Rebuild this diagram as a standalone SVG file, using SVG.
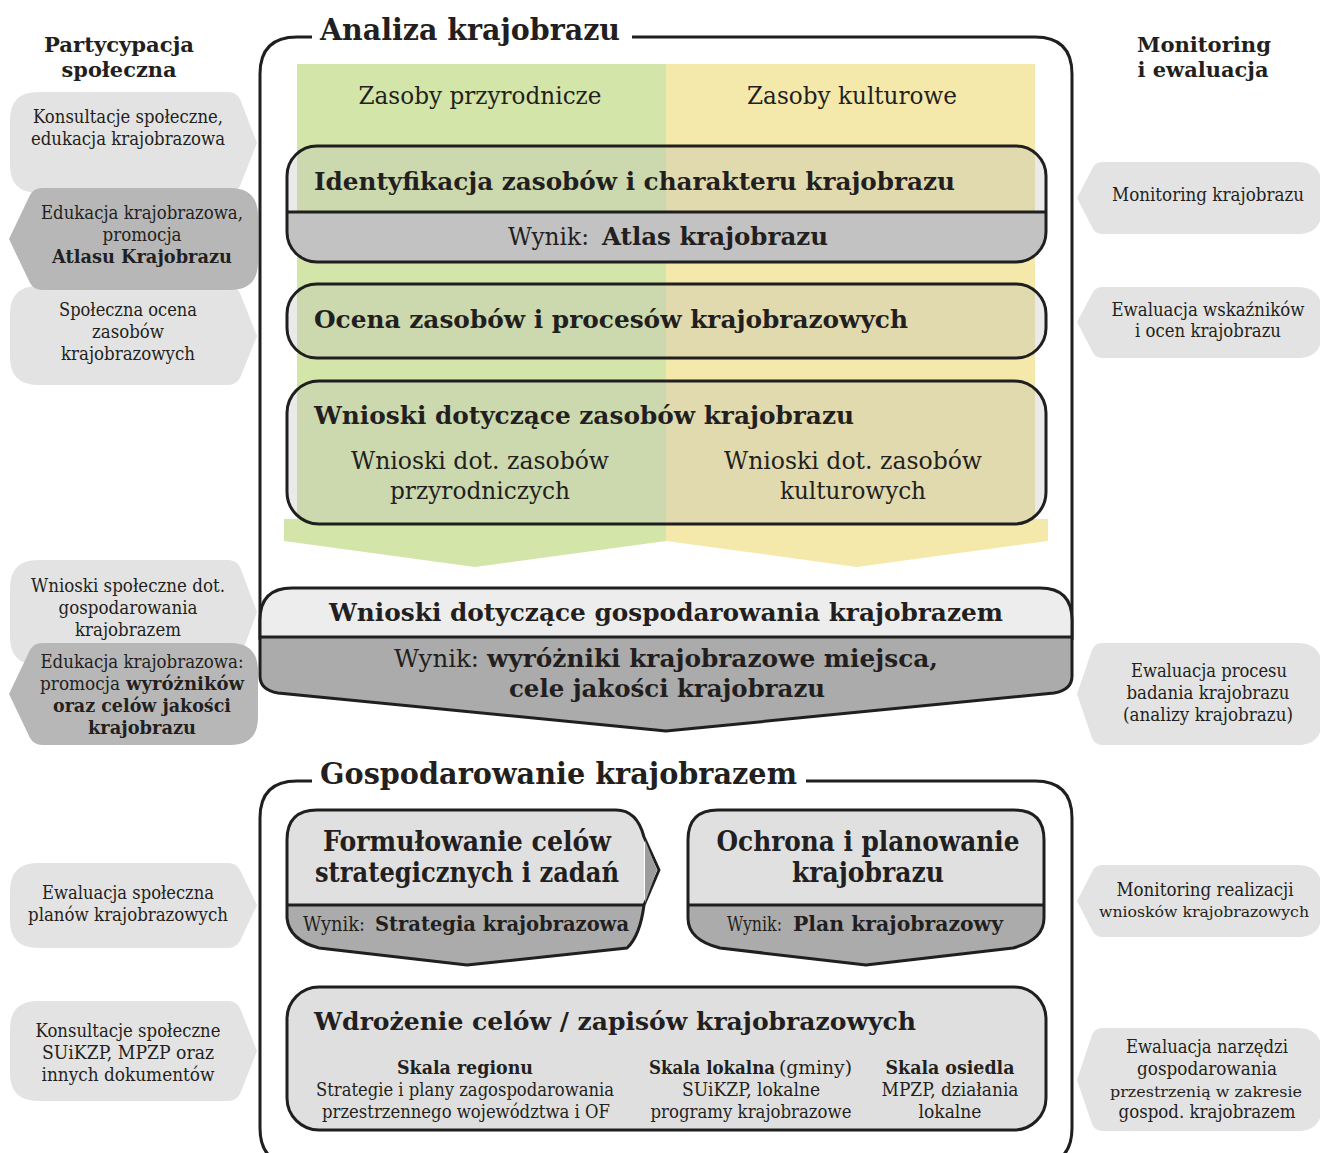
<svg xmlns="http://www.w3.org/2000/svg" width="1320" height="1153" viewBox="0 0 1320 1153">
  <style>
    text { font-family: "DejaVu Serif", "Liberation Serif", serif; fill: #231f20; }
    .b { font-weight: bold; }
    .mid { text-anchor: middle; }
    .side { font-size: 18px; text-anchor: middle; }
    .side-sm { font-size: 15px; text-anchor: middle; }
    .head { font-size: 21px; font-weight: bold; text-anchor: middle; }
    .title { font-size: 30px; font-weight: bold; }
    .frame { fill: none; stroke: #1f1f1f; stroke-width: 3; }
    .edge { fill: none; stroke: #1f1f1f; stroke-width: 3; stroke-linejoin: round; }
    .light { fill: #e3e3e3; }
    .dark { fill: #b7b7b7; }
    .veil { fill: #bbbbbb; fill-opacity: 0.3; }
  </style>
  <defs>
    <clipPath id="clipIdent"><rect x="287" y="146" width="759" height="116" rx="30"/></clipPath>
  </defs>

  <rect x="0" y="0" width="1320" height="1153" fill="#ffffff"/>

  <!-- column headers -->
  <text class="head" x="119" y="52" textLength="150" lengthAdjust="spacingAndGlyphs">Partycypacja</text>
  <text class="head" x="119" y="77" textLength="115" lengthAdjust="spacingAndGlyphs">społeczna</text>
  <text class="head" x="1204" y="52" textLength="134" lengthAdjust="spacingAndGlyphs">Monitoring</text>
  <text class="head" x="1203" y="77" textLength="131" lengthAdjust="spacingAndGlyphs">i ewaluacja</text>

  <!-- resource columns with their downward arrow tips -->
  <g id="columns">
    <rect x="297" y="64" width="369" height="456" fill="#d4e5a9"/>
    <rect x="666" y="64" width="369" height="456" fill="#f4e9ab"/>
    <path d="M284,519 H666 V541 L475,567 L284,541 Z" fill="#d4e5a9"/>
    <path d="M666,519 H1048 V541 L857,567 L666,541 Z" fill="#f4e9ab"/>
    <text x="480" y="104" class="mid" font-size="24" textLength="243" lengthAdjust="spacingAndGlyphs">Zasoby przyrodnicze</text>
    <text x="852" y="104" class="mid" font-size="24" textLength="210" lengthAdjust="spacingAndGlyphs">Zasoby kulturowe</text>
  </g>

  <!-- frame: landscape analysis -->
  <g id="frame-analiza">
    <path class="frame" d="M312,37 H297 Q260,37 260,74 V640 M1072,640 V74 Q1072,37 1035,37 H632"/>
    <text class="title" x="320" y="40" textLength="300" lengthAdjust="spacingAndGlyphs">Analiza krajobrazu</text>
  </g>

  <g id="identyfikacja">
    <g clip-path="url(#clipIdent)">
      <rect class="veil" x="287" y="146" width="759" height="66"/>
      <rect x="287" y="212" width="759" height="50" fill="#c2c2c2"/>
    </g>
    <rect class="edge" x="287" y="146" width="759" height="116" rx="30"/>
    <line class="edge" x1="287" y1="212" x2="1046" y2="212"/>
    <text class="b" x="314" y="190" font-size="25" textLength="641" lengthAdjust="spacingAndGlyphs">Identyfikacja zasobów i charakteru krajobrazu</text>
    <text x="508" y="245" font-size="24" textLength="81" lengthAdjust="spacingAndGlyphs">Wynik:</text>
    <text class="b" x="602" y="245" font-size="24" textLength="226" lengthAdjust="spacingAndGlyphs">Atlas krajobrazu</text>
  </g>

  <g id="ocena">
    <rect class="veil" x="287" y="284" width="759" height="74" rx="30"/>
    <rect class="edge" x="287" y="284" width="759" height="74" rx="30"/>
    <text class="b" x="314" y="328" font-size="25" textLength="594" lengthAdjust="spacingAndGlyphs">Ocena zasobów i procesów krajobrazowych</text>
  </g>

  <g id="wnioski-zasoby">
    <rect class="veil" x="287" y="381" width="759" height="143" rx="32"/>
    <rect class="edge" x="287" y="381" width="759" height="143" rx="32"/>
    <text class="b" x="314" y="424" font-size="25" textLength="540" lengthAdjust="spacingAndGlyphs">Wnioski dotyczące zasobów krajobrazu</text>
    <text class="mid" x="480" y="469" font-size="24" textLength="258" lengthAdjust="spacingAndGlyphs">Wnioski dot. zasobów</text>
    <text class="mid" x="480" y="499" font-size="24" textLength="180" lengthAdjust="spacingAndGlyphs">przyrodniczych</text>
    <text class="mid" x="853" y="469" font-size="24" textLength="258" lengthAdjust="spacingAndGlyphs">Wnioski dot. zasobów</text>
    <text class="mid" x="853" y="499" font-size="24" textLength="146" lengthAdjust="spacingAndGlyphs">kulturowych</text>
  </g>

  <g id="wnioski-gospodarowanie">
    <path d="M260,637 V620 Q260,588 292,588 H1040 Q1072,588 1072,620 V637 Z" fill="#ededed"/>
    <path d="M260,637 H1072 V676 Q1072,690 1054,693 L666,731 L278,693 Q260,690 260,676 Z" fill="#ababab"/>
    <path class="edge" d="M260,637 V620 Q260,588 292,588 H1040 Q1072,588 1072,620 V676 Q1072,690 1054,693 L666,731 L278,693 Q260,690 260,676 Z"/>
    <line class="edge" x1="260" y1="637" x2="1072" y2="637"/>
    <text class="b mid" x="666" y="621" font-size="25" textLength="674" lengthAdjust="spacingAndGlyphs">Wnioski dotyczące gospodarowania krajobrazem</text>
    <text x="394" y="667" font-size="24" textLength="85" lengthAdjust="spacingAndGlyphs">Wynik:</text>
    <text class="b" x="487" y="667" font-size="24" textLength="451" lengthAdjust="spacingAndGlyphs">wyróżniki krajobrazowe miejsca,</text>
    <text class="b mid" x="667" y="697" font-size="24" textLength="316" lengthAdjust="spacingAndGlyphs">cele jakości krajobrazu</text>
  </g>

  <!-- frame: landscape management -->
  <g id="frame-gospodarowanie">
    <path class="frame" d="M312,781 H297 Q260,781 260,818 V1128 Q260,1165 297,1165 H1035 Q1072,1165 1072,1128 V818 Q1072,781 1035,781 H806"/>
    <text class="title" x="320" y="784" textLength="477" lengthAdjust="spacingAndGlyphs">Gospodarowanie krajobrazem</text>
  </g>

  <g id="formulowanie">
    <path d="M287,905 V840 Q287,810 317,810 H616 Q637,810 644,837 V905 Z" fill="#e0e0e0"/>
    <path d="M287,905 H644 Q640,936 627,948 L467,965 L319,948 Q289,940 287,918 Z" fill="#ababab"/>
    <path class="edge" d="M287,905 V840 Q287,810 317,810 H616 Q637,810 644,837 L659,870 L644,905 Q640,936 627,948 L467,965 L319,948 Q289,940 287,918 Z"/>
    <line class="edge" x1="287" y1="905" x2="644" y2="905"/>
    <text class="b mid" x="467" y="851" font-size="27" textLength="288" lengthAdjust="spacingAndGlyphs">Formułowanie celów</text>
    <text class="b mid" x="467" y="882" font-size="27" textLength="304" lengthAdjust="spacingAndGlyphs">strategicznych i zadań</text>
    <text x="303" y="931" font-size="20" textLength="62" lengthAdjust="spacingAndGlyphs">Wynik:</text>
    <text class="b" x="375" y="931" font-size="20" textLength="254" lengthAdjust="spacingAndGlyphs">Strategia krajobrazowa</text>
  </g>

  <g id="ochrona">
    <path d="M688,905 V840 Q688,810 718,810 H1014 Q1044,810 1044,840 V905 Z" fill="#e0e0e0"/>
    <path d="M688,905 H1044 V918 Q1044,940 1013,948 L866,965 L720,948 Q688,940 688,918 Z" fill="#ababab"/>
    <path class="edge" d="M688,905 V840 Q688,810 718,810 H1014 Q1044,810 1044,840 V918 Q1044,940 1013,948 L866,965 L720,948 Q688,940 688,918 Z"/>
    <line class="edge" x1="688" y1="905" x2="1044" y2="905"/>
    <text class="b mid" x="868" y="851" font-size="27" textLength="303" lengthAdjust="spacingAndGlyphs">Ochrona i planowanie</text>
    <text class="b mid" x="868" y="882" font-size="27" textLength="152" lengthAdjust="spacingAndGlyphs">krajobrazu</text>
    <text x="727" y="931" font-size="20" textLength="55" lengthAdjust="spacingAndGlyphs">Wynik:</text>
    <text class="b" x="793" y="931" font-size="20" textLength="210" lengthAdjust="spacingAndGlyphs">Plan krajobrazowy</text>
  </g>

  <g id="connectors">
    <!-- step arrow from strategy formulation towards planning -->
    <path d="M645,840 L657,870 L645,903 Z" fill="#9c9c9c"/>
  </g>

  <g id="wdrozenie">
    <rect x="287" y="987" width="759" height="143" rx="32" fill="#dfdfdf"/>
    <rect class="edge" x="287" y="987" width="759" height="143" rx="32"/>
    <text class="b" x="314" y="1030" font-size="25" textLength="602" lengthAdjust="spacingAndGlyphs">Wdrożenie celów / zapisów krajobrazowych</text>
    <text class="b mid" x="465" y="1074" font-size="18" textLength="136" lengthAdjust="spacingAndGlyphs">Skala regionu</text>
    <text class="mid" x="465" y="1096" font-size="18" textLength="298" lengthAdjust="spacingAndGlyphs">Strategie i plany zagospodarowania</text>
    <text class="mid" x="466" y="1118" font-size="18" textLength="288" lengthAdjust="spacingAndGlyphs">przestrzennego województwa i OF</text>
    <text class="b" x="649" y="1074" font-size="18" textLength="126" lengthAdjust="spacingAndGlyphs">Skala lokalna</text>
    <text x="779" y="1074" font-size="18" textLength="73" lengthAdjust="spacingAndGlyphs">(gminy)</text>
    <text class="mid" x="751" y="1096" font-size="18" textLength="138" lengthAdjust="spacingAndGlyphs">SUiKZP, lokalne</text>
    <text class="mid" x="751" y="1118" font-size="18" textLength="201" lengthAdjust="spacingAndGlyphs">programy krajobrazowe</text>
    <text class="b mid" x="950" y="1074" font-size="18" textLength="129" lengthAdjust="spacingAndGlyphs">Skala osiedla</text>
    <text class="mid" x="950" y="1096" font-size="18" textLength="137" lengthAdjust="spacingAndGlyphs">MPZP, działania</text>
    <text class="mid" x="950" y="1118" font-size="18" textLength="63" lengthAdjust="spacingAndGlyphs">lokalne</text>
  </g>

  <!-- public participation (left) -->
  <g id="p-konsultacje">
    <path class="light" d="M38,92 H228 Q236,92 240,99 L257,143 L240,186 Q236,193 228,193 H38 Q10,193 10,165 V120 Q10,92 38,92 Z"/>
    <text class="side" x="128" y="123" textLength="190" lengthAdjust="spacingAndGlyphs">Konsultacje społeczne,</text>
    <text class="side" x="128" y="145" textLength="194" lengthAdjust="spacingAndGlyphs">edukacja krajobrazowa</text>
  </g>
  <g id="p-spoleczna-ocena">
    <path class="light" d="M38,286 H228 Q236,286 240,293 L257,336 L240,378 Q236,385 228,385 H38 Q10,385 10,357 V314 Q10,286 38,286 Z"/>
    <text class="side" x="128" y="316" textLength="138" lengthAdjust="spacingAndGlyphs">Społeczna ocena</text>
    <text class="side" x="128" y="338" textLength="72" lengthAdjust="spacingAndGlyphs">zasobów</text>
    <text class="side" x="128" y="360" textLength="134" lengthAdjust="spacingAndGlyphs">krajobrazowych</text>
  </g>
  <g id="p-atlas">
    <path class="dark" d="M42,188 H230 Q258,188 258,216 V262 Q258,290 230,290 H42 Q34,290 30,283 L9,239 L30,195 Q34,188 42,188 Z"/>
    <text class="side" x="142" y="219" textLength="202" lengthAdjust="spacingAndGlyphs">Edukacja krajobrazowa,</text>
    <text class="side" x="142" y="241" textLength="79" lengthAdjust="spacingAndGlyphs">promocja</text>
    <text class="side b" x="142" y="263" textLength="180" lengthAdjust="spacingAndGlyphs">Atlasu Krajobrazu</text>
  </g>
  <g id="p-wnioski">
    <path class="light" d="M38,560 H228 Q236,560 240,567 L257,612 L240,658 Q236,665 228,665 H38 Q10,665 10,637 V588 Q10,560 38,560 Z"/>
    <text class="side" x="128" y="592" textLength="194" lengthAdjust="spacingAndGlyphs">Wnioski społeczne dot.</text>
    <text class="side" x="128" y="614" textLength="139" lengthAdjust="spacingAndGlyphs">gospodarowania</text>
    <text class="side" x="128" y="636" textLength="106" lengthAdjust="spacingAndGlyphs">krajobrazem</text>
  </g>
  <g id="p-wyrozniki">
    <path class="dark" d="M42,643 H230 Q258,643 258,671 V717 Q258,745 230,745 H42 Q34,745 30,738 L9,694 L30,650 Q34,643 42,643 Z"/>
    <text class="side" x="142" y="668" textLength="203" lengthAdjust="spacingAndGlyphs">Edukacja krajobrazowa:</text>
    <text x="40" y="690" font-size="18" textLength="80" lengthAdjust="spacingAndGlyphs">promocja</text>
    <text class="b" x="126" y="690" font-size="18" textLength="118" lengthAdjust="spacingAndGlyphs">wyróżników</text>
    <text class="side b" x="142" y="712" textLength="178" lengthAdjust="spacingAndGlyphs">oraz celów jakości</text>
    <text class="side b" x="142" y="734" textLength="108" lengthAdjust="spacingAndGlyphs">krajobrazu</text>
  </g>
  <g id="p-ewaluacja-planow">
    <path class="light" d="M38,863 H228 Q236,863 240,870 L257,905 L240,941 Q236,948 228,948 H38 Q10,948 10,920 V891 Q10,863 38,863 Z"/>
    <text class="side" x="128" y="899" textLength="172" lengthAdjust="spacingAndGlyphs">Ewaluacja społeczna</text>
    <text class="side" x="128" y="921" textLength="200" lengthAdjust="spacingAndGlyphs">planów krajobrazowych</text>
  </g>
  <g id="p-konsultacje-dokumentow">
    <path class="light" d="M38,1001 H228 Q236,1001 240,1008 L257,1051 L240,1094 Q236,1101 228,1101 H38 Q10,1101 10,1073 V1029 Q10,1001 38,1001 Z"/>
    <text class="side" x="128" y="1037" textLength="185" lengthAdjust="spacingAndGlyphs">Konsultacje społeczne</text>
    <text class="side" x="128" y="1059" textLength="172" lengthAdjust="spacingAndGlyphs">SUiKZP, MPZP oraz</text>
    <text class="side" x="128" y="1081" textLength="173" lengthAdjust="spacingAndGlyphs">innych dokumentów</text>
  </g>

  <!-- monitoring and evaluation (right) -->
  <g id="m-monitoring">
    <path class="light" d="M1102,162 H1297 Q1322,162 1322,187 V209 Q1322,234 1297,234 H1102 Q1095,234 1092,227 L1077,198 L1092,169 Q1095,162 1102,162 Z"/>
    <text class="side" x="1208" y="201" textLength="192" lengthAdjust="spacingAndGlyphs">Monitoring krajobrazu</text>
  </g>
  <g id="m-wskazniki">
    <path class="light" d="M1102,287 H1297 Q1322,287 1322,312 V333 Q1322,358 1297,358 H1102 Q1095,358 1092,351 L1077,322 L1092,294 Q1095,287 1102,287 Z"/>
    <text class="side" x="1208" y="316" textLength="193" lengthAdjust="spacingAndGlyphs">Ewaluacja wskaźników</text>
    <text class="side" x="1208" y="337" textLength="146" lengthAdjust="spacingAndGlyphs">i ocen krajobrazu</text>
  </g>
  <g id="m-proces">
    <path class="light" d="M1102,643 H1297 Q1322,643 1322,668 V720 Q1322,745 1297,745 H1102 Q1095,745 1092,738 L1077,694 L1092,650 Q1095,643 1102,643 Z"/>
    <text class="side" x="1209" y="677" textLength="156" lengthAdjust="spacingAndGlyphs">Ewaluacja procesu</text>
    <text class="side" x="1208" y="699" textLength="163" lengthAdjust="spacingAndGlyphs">badania krajobrazu</text>
    <text class="side" x="1208" y="721" textLength="170" lengthAdjust="spacingAndGlyphs">(analizy krajobrazu)</text>
  </g>
  <g id="m-realizacja">
    <path class="light" d="M1102,865 H1297 Q1322,865 1322,890 V912 Q1322,937 1297,937 H1102 Q1095,937 1092,930 L1077,901 L1092,872 Q1095,865 1102,865 Z"/>
    <text class="side" x="1205" y="896" textLength="177" lengthAdjust="spacingAndGlyphs">Monitoring realizacji</text>
    <text class="side-sm" x="1204" y="917" textLength="210" lengthAdjust="spacingAndGlyphs">wniosków krajobrazowych</text>
  </g>
  <g id="m-narzedzia">
    <path class="light" d="M1102,1028 H1297 Q1322,1028 1322,1053 V1106 Q1322,1131 1297,1131 H1102 Q1095,1131 1092,1124 L1077,1080 L1092,1035 Q1095,1028 1102,1028 Z"/>
    <text class="side" x="1207" y="1053" textLength="162" lengthAdjust="spacingAndGlyphs">Ewaluacja narzędzi</text>
    <text class="side" x="1207" y="1075" textLength="140" lengthAdjust="spacingAndGlyphs">gospodarowania</text>
    <text class="side-sm" x="1206" y="1097" textLength="192" lengthAdjust="spacingAndGlyphs">przestrzenią w zakresie</text>
    <text class="side" x="1207" y="1118" textLength="177" lengthAdjust="spacingAndGlyphs">gospod. krajobrazem</text>
  </g>
</svg>
